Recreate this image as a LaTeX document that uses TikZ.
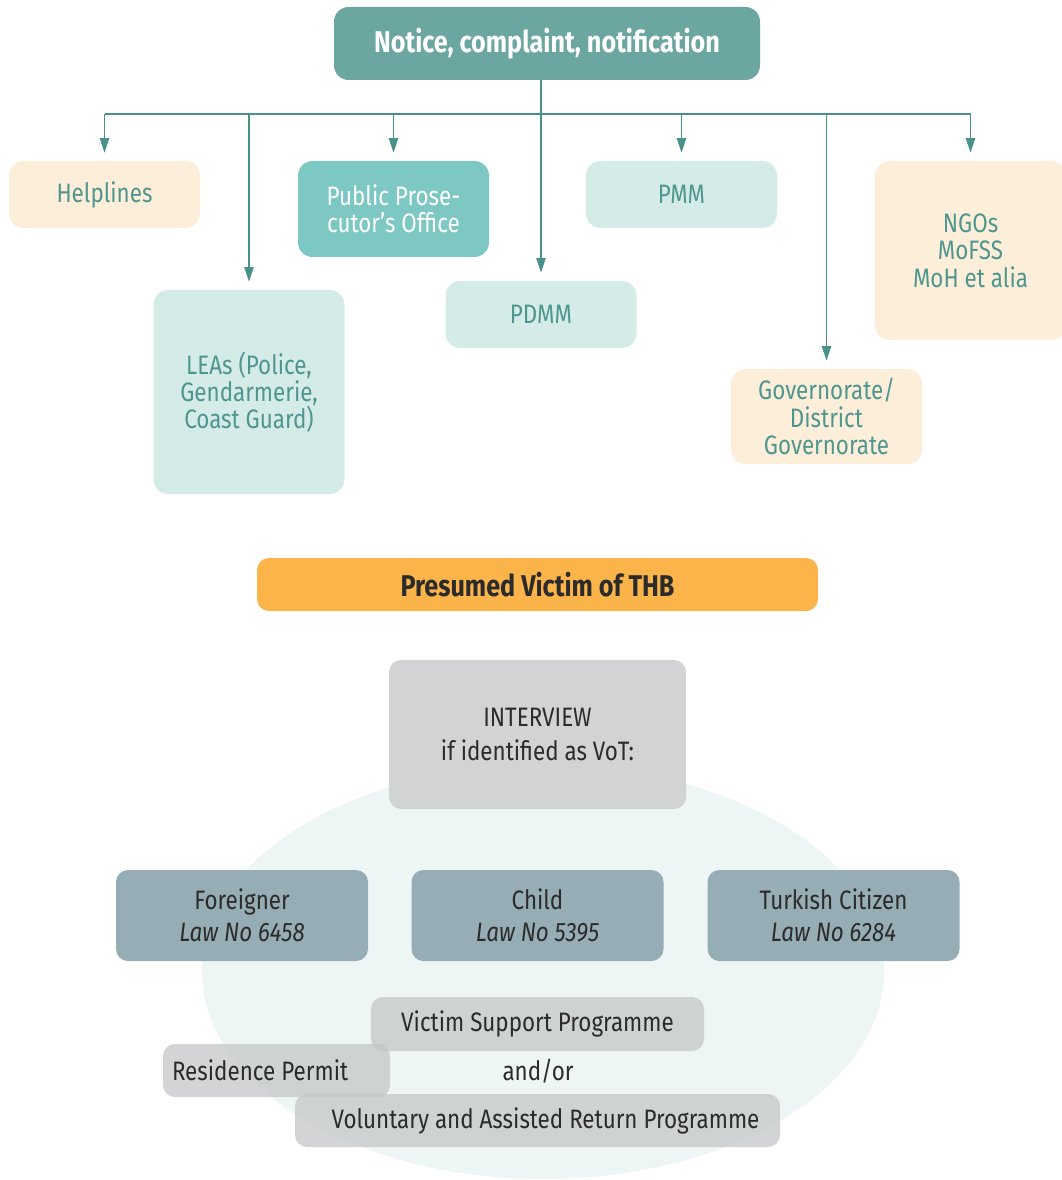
\documentclass[tikz,border=0pt]{standalone}
\usepackage{fontspec}
\setmainfont{Fira Sans}[FakeStretch=0.84]
\usetikzlibrary{arrows.meta, calc, positioning, shapes.geometric}
\definecolor{cTeal}{HTML}{6BA6A1}
\definecolor{cArrow}{HTML}{4A918C}
\definecolor{cTealText}{HTML}{4E9690}
\definecolor{cFillTeal}{HTML}{D5EBE8}
\definecolor{cMidTeal}{HTML}{7EC8C3}
\definecolor{cCream}{HTML}{FDEED9}
\definecolor{cOrange}{HTML}{FBB44A}
\definecolor{cGray}{HTML}{D1D3D5}
\definecolor{cGrayT}{HTML}{C4C6C8}
\definecolor{cSlate}{HTML}{96ADB6}
\definecolor{cOval}{HTML}{EEF6F5}
\definecolor{cDark}{HTML}{2B2B2B}
\tikzset{
  nd/.style={rectangle, rounded corners=11pt, align=center, inner sep=4pt,
             minimum width=143.25pt, minimum height=50.25pt,
             font=\fontsize{20}{20.5}\selectfont},
  nTeal/.style ={nd, fill=cFillTeal, text=cTealText},
  nCream/.style={nd, fill=cCream,    text=cTealText},
  nMid/.style  ={nd, fill=cMidTeal,  text=white},
  nHead/.style ={nd, fill=cTeal, text=white, font=\fontsize{22.5}{24}\selectfont\bfseries},
  gbox/.style  ={rectangle, rounded corners=9pt, align=center, inner sep=4pt,
                 text=cDark, font=\fontsize{20}{24}\selectfont},
  gSolid/.style={gbox, fill=cGray},
  gSoft/.style ={gbox, fill=cGrayT, fill opacity=0.75, text opacity=1,
                 minimum height=39.75pt},
  gLaw/.style  ={gbox, fill=cSlate, minimum width=189pt, minimum height=68.25pt},
  myarr/.style={-{Triangle[width=7pt,length=11pt]}, line width=1.1pt,
                color=cArrow, shorten >=6pt},
  bus/.style={line width=1.1pt, color=cArrow},
}

\begin{document}
\begin{tikzpicture}[x=0.75pt, y=-0.75pt]
\useasboundingbox (0,0) rectangle (1062,1180);

%% ============================================================
%% TOP  -- source of every report
%% ============================================================
\node[nHead, minimum width=319.5pt, minimum height=54.75pt]
  (notice) at (547,43.5) {Notice, complaint, notification};

%% ============================================================
%% RECEIVING BODIES  -- staggered row
%% ============================================================
\node[nCream] (helplines) at (104.5,194.5) {Helplines};
\node[nTeal, minimum height=153pt] (leas) at (249,392)
  {LEAs (Police,\\Gendarmerie,\\Coast Guard)};
\node[nMid, minimum height=72pt] (ppo) at (393.5,209)
  {Public Prose-\\cutor’s Office};
\node[nTeal] (pdmm) at (541,314.5) {PDMM};
\node[nTeal] (pmm) at (681.5,194.5) {PMM};
\node[nCream, minimum height=71.25pt] (govern) at (826.5,416.5)
  {Governorate/\\District\\Governorate};
\node[nCream, minimum height=134.25pt] (ngos) at (970.5,250.5)
  {NGOs\\MoFSS\\MoH et alia};

%% ============================================================
%% DISTRIBUTION BUS
%% ============================================================
\coordinate (bus) at (541,114);
\draw[bus] (helplines.north |- bus) -- (ngos.north |- bus);
\draw[myarr] (notice.south -| pdmm.north) -- (pdmm.north);
\foreach \n in {helplines, leas, ppo, pmm, govern, ngos}
  \draw[myarr] (\n.north |- bus) -- (\n.north);

%% ============================================================
%% PRESUMED VICTIM
%% ============================================================
\node[nd, fill=cOrange, text=cDark, rounded corners=9pt,
      minimum width=420.75pt, minimum height=39.75pt,
      font=\fontsize{22.5}{24}\selectfont\bfseries]
  (victim) at (537.5,584.5) {Presumed Victim of THB};

%% ============================================================
%% IDENTIFICATION  -- oval backdrop
%% ============================================================
\node[ellipse, fill=cOval, minimum width=511.5pt, minimum height=310.5pt,
      inner sep=0pt] (oval) at (543,972) {};
\node[gSolid, minimum width=222.75pt, minimum height=111.75pt,
      font=\fontsize{20}{26}\selectfont]
  (interview) at (537.5,734.5) {INTERVIEW\\if identified as VoT:};

\node[gLaw] (foreigner) at (242,915.5)   {Foreigner\\\textit{Law No 6458}};
\node[gLaw] (child)     at (537.5,915.5) {Child\\\textit{Law No 5395}};
\node[gLaw] (turkish)   at (833.5,915.5) {Turkish Citizen\\\textit{Law No 6284}};

%% ============================================================
%% PROGRAMMES
%% ============================================================
\node[gSoft, minimum width=249.75pt, minimum height=40.5pt]
  (support) at (537.5,1024) {Victim Support Programme};
\node[gSoft, minimum width=170.25pt]
  (permit) at (276.5,1070.5) {\makebox[156.75pt][l]{Residence Permit}};
\node[font=\fontsize{20}{24}\selectfont, text=cDark]
  (andor) at (538,1071) {and/or};
\node[gSoft, minimum width=363.75pt]
  (return) at (537.5,1120.5) {\hspace{12pt}Voluntary and Assisted Return Programme};

\end{tikzpicture}
\end{document}
